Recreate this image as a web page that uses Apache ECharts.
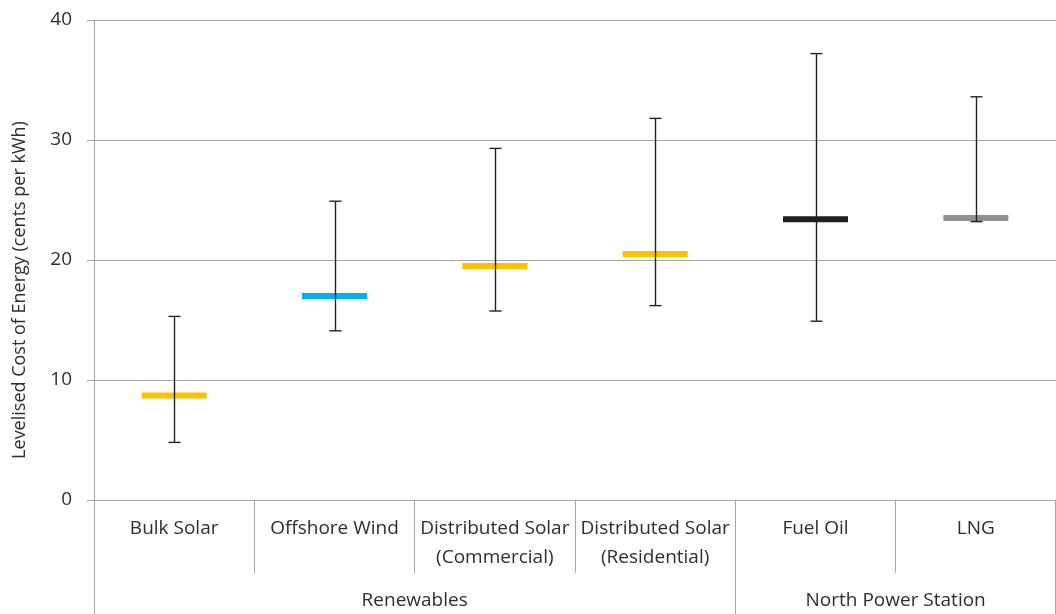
<!DOCTYPE html>
<html>
<head>
<meta charset="utf-8">
<script src="https://cdn.jsdelivr.net/npm/echarts@6/dist/echarts.min.js"></script>
<style>
html,body{margin:0;padding:0;background:#fff;}
#chart{width:1056px;height:614px;}
</style>
</head>
<body>
<div id="chart"></div>
<script>
const categories = ['Bulk Solar', 'Offshore Wind', 'Distributed Solar\n(Commercial)', 'Distributed Solar\n(Residential)', 'Fuel Oil', 'LNG'];
const groups = ['Renewables', 'North Power Station'];
const groupSizes = [4, 2];
const meanValues = [8.7, 17.0, 19.5, 20.5, 23.4, 23.5];
const highValues = [15.3, 24.9, 29.3, 31.8, 37.2, 33.6];
const lowValues = [4.8, 14.1, 15.75, 16.2, 14.9, 23.2];
const meanColors = ['#FFC000', '#00B0F0', '#FFC000', '#FFC000', '#1F1F1F', '#909090'];
const yTicks = [0, 10, 20, 30, 40];
const yTitle = 'Levelised Cost of Energy (cents per kWh)';

const FONT = '"Open Sans", Lato, sans-serif';
const AXIS_COLOR = '#a6a6a6';
const TEXT_COLOR = '#2e2e2e';

const chart = echarts.init(document.getElementById('chart'), null, {renderer: 'canvas'});

const option = {
  animation: false,
  grid: {left: 94, right: 0, top: 20, bottom: 114, containLabel: false},
  xAxis: {
    type: 'category',
    data: categories,
    boundaryGap: true,
    axisLine: {show: true, lineStyle: {color: AXIS_COLOR, width: 1}},
    axisTick: {show: true, length: 73, lineStyle: {color: AXIS_COLOR, width: 1}},
    axisLabel: {interval: 0, hideOverlap: false, margin: 14, fontFamily: FONT, fontSize: 19, lineHeight: 29, color: TEXT_COLOR}
  },
  yAxis: {
    type: 'value',
    min: yTicks[0],
    max: yTicks[yTicks.length - 1],
    interval: 10,
    axisLine: {show: true, lineStyle: {color: AXIS_COLOR, width: 1}},
    axisTick: {show: true, length: 7, lineStyle: {color: AXIS_COLOR, width: 1}},
    splitLine: {show: true, lineStyle: {color: AXIS_COLOR, width: 1}},
    axisLabel: {margin: 22, fontFamily: FONT, fontSize: 19, color: TEXT_COLOR}
  },
  series: [
    {
      type: 'scatter',
      symbol: 'rect',
      symbolSize: [65, 6],
      z: 2,
      data: meanValues.map((v, i) => ({value: [i, v], itemStyle: {color: meanColors[i], opacity: 1}}))
    },
    {
      type: 'custom',
      z: 3,
      data: highValues.map((h, i) => [i, h, lowValues[i]]),
      renderItem: function (params, api) {
        const top = api.coord([api.value(0), api.value(1)]);
        const bot = api.coord([api.value(0), api.value(2)]);
        const x = Math.round(top[0]) + 0.5;
        const cap = 6;
        const style = {stroke: '#222', lineWidth: 1.4, fill: null};
        return {
          type: 'group',
          children: [
            {type: 'line', shape: {x1: x, y1: top[1], x2: x, y2: bot[1]}, style: style},
            {type: 'line', shape: {x1: x - cap, y1: top[1], x2: x + cap, y2: top[1]}, style: style},
            {type: 'line', shape: {x1: x - cap, y1: bot[1], x2: x + cap, y2: bot[1]}, style: style}
          ]
        };
      }
    }
  ]
};
chart.setOption(option);

// group-level axis decorations computed from the category scale
const c0 = chart.convertToPixel({xAxisIndex: 0}, 0);
const c1 = chart.convertToPixel({xAxisIndex: 0}, 1);
const band = c1 - c0;
const yBase = chart.convertToPixel({yAxisIndex: 0}, 0);
const yMid = (chart.convertToPixel({yAxisIndex: 0}, yTicks[0]) + chart.convertToPixel({yAxisIndex: 0}, yTicks[yTicks.length - 1])) / 2;
const graphics = [];
let start = 0;
const bounds = [c0 - band / 2];
groups.forEach((g, gi) => {
  const end = start + groupSizes[gi];
  const left = c0 - band / 2 + start * band;
  const right = c0 - band / 2 + end * band;
  bounds.push(right);
  graphics.push({
    type: 'text', x: (left + right) / 2, y: 601,
    style: {text: g, fontFamily: FONT, fontSize: 19, fill: TEXT_COLOR, align: 'center', verticalAlign: 'middle'}
  });
  start = end;
});
bounds.forEach(b => {
  const bx = Math.min(Math.round(b) + 0.5, 1055.5);
  graphics.push({type: 'line', shape: {x1: bx, y1: yBase, x2: bx, y2: 614}, style: {stroke: AXIS_COLOR, lineWidth: 1}});
});
graphics.push({
  type: 'text', x: 20, y: yMid + 30, rotation: Math.PI / 2,
  style: {text: yTitle, fontFamily: FONT, fontSize: 18, fill: TEXT_COLOR, align: 'center', verticalAlign: 'middle'}
});
chart.setOption({graphic: graphics});
</script>
</body>
</html>
